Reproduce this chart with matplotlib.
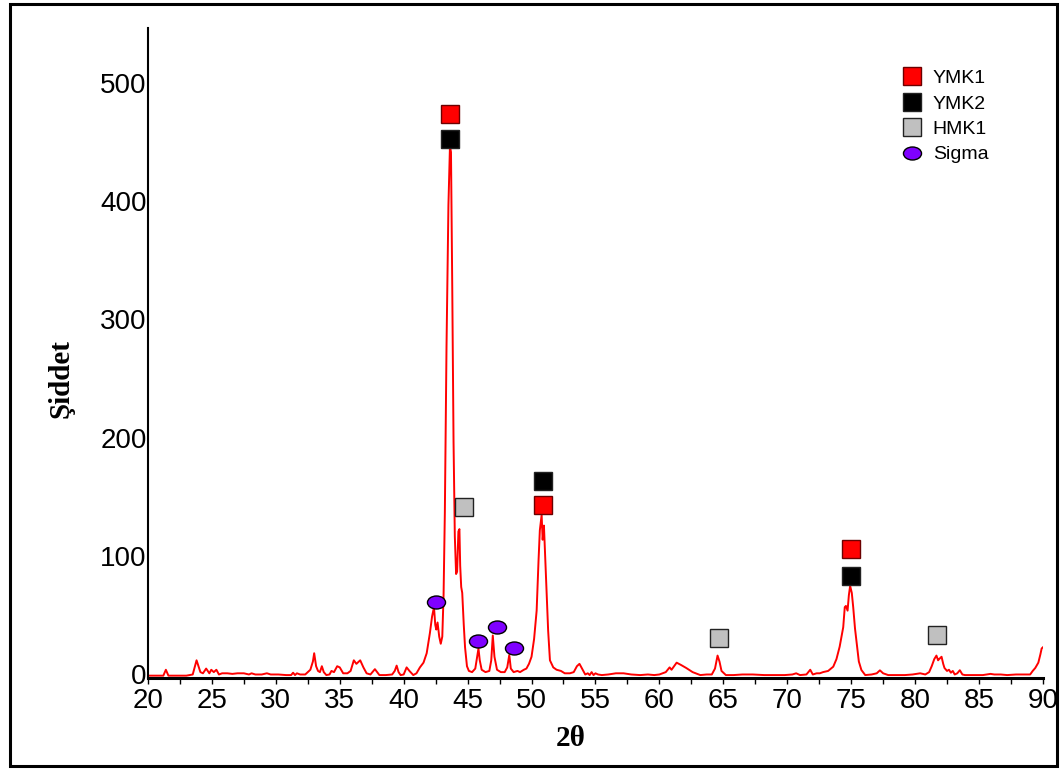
import matplotlib
matplotlib.use("Agg")
import matplotlib.pyplot as plt
import numpy as np
from matplotlib.lines import Line2D
from matplotlib.patches import Rectangle
from matplotlib.path import Path
from matplotlib.transforms import Affine2D, ScaledTranslation

# XRD profile (2theta, intensity)
two_theta = [
    20.0, 20.5, 21.2, 21.4, 21.6, 22.0, 23.0, 23.5, 23.8, 24.1, 24.3, 24.55, 24.8, 24.95,
    25.15, 25.35, 25.55, 25.8, 26.2, 26.6, 27.0, 27.5, 27.9, 28.1, 28.4, 28.9, 29.3, 29.6,
    30.2, 30.8, 31.2, 31.35, 31.5, 31.65, 31.9, 32.3, 32.7, 32.9, 33.0, 33.15, 33.3, 33.45,
    33.6, 33.75, 33.95, 34.2, 34.35, 34.55, 34.8, 35.0, 35.27, 35.6, 35.85, 36.1, 36.3, 36.6,
    36.85, 37.1, 37.4, 37.75, 38.1, 38.6, 39.1, 39.3, 39.45, 39.6, 39.76, 40.0, 40.23, 40.45,
    40.75, 41.0, 41.27, 41.55, 41.8, 42.05, 42.22, 42.37, 42.47, 42.55, 42.65, 42.78, 42.9,
    43.02, 43.12, 43.22, 43.35, 43.5, 43.62, 43.7, 43.8, 43.9, 44.0, 44.1, 44.18, 44.28,
    44.36, 44.42, 44.5, 44.58, 44.7, 44.8, 44.95, 45.1, 45.35, 45.6, 45.75, 45.85, 45.95,
    46.1, 46.4, 46.7, 46.85, 46.97, 47.1, 47.3, 47.6, 47.9, 48.1, 48.26, 48.38, 48.6, 48.9,
    49.1, 49.4, 49.6, 49.8, 50.0, 50.2, 50.4, 50.55, 50.65, 50.79, 50.87, 50.97, 51.08,
    51.18, 51.3, 51.44, 51.7, 51.96, 52.3, 52.6, 53.0, 53.3, 53.55, 53.75, 53.95, 54.2,
    54.4, 54.55, 54.7, 54.85, 55.0, 55.2, 55.5, 56.0, 56.6, 57.2, 57.8, 58.5, 59.1, 59.6,
    60.0, 60.5, 60.8, 60.95, 61.35, 61.7, 62.1, 62.6, 63.2, 63.7, 64.1, 64.35, 64.55, 64.7,
    64.86, 65.05, 65.2, 65.8, 66.5, 67.3, 68.2, 69.0, 69.8, 70.4, 70.7, 71.0, 71.5, 71.8,
    72.0, 72.3, 72.55, 72.8, 73.2, 73.6, 73.85, 74.1, 74.38, 74.5, 74.59, 74.72, 74.82,
    74.92, 75.05, 75.16, 75.3, 75.47, 75.6, 75.8, 76.1, 76.6, 77.0, 77.25, 77.5, 77.9,
    78.5, 79.2, 79.8, 80.4, 80.8, 81.1, 81.3, 81.5, 81.67, 81.8, 81.88, 82.07, 82.2, 82.3,
    82.5, 82.65, 82.8, 82.95, 83.1, 83.3, 83.5, 83.7, 83.9, 84.5, 85.3, 85.9, 86.2, 86.7,
    87.2, 87.9, 88.5, 89.0, 89.2, 89.4, 89.64, 89.8, 89.9, 90.0,
]
intensity = [
    2, 2, 2, 7, 2, 2, 2, 3, 15, 5, 4, 8, 4, 7,
    5, 7, 3, 4, 4, 3.5, 4, 4, 3, 4, 3, 3, 4, 3,
    3, 2.5, 2.5, 4.5, 2.5, 4, 3, 3, 7, 14, 21, 10, 6, 5,
    10, 5, 2.5, 3, 6, 5, 10, 9, 4, 4, 6, 15, 12, 15,
    9, 4, 3, 7.5, 2.5, 2.5, 3, 6, 10.5, 5, 2.5, 3, 9, 6,
    2.5, 4, 9, 13, 21, 38, 52, 60, 45, 41, 47, 35, 29,
    35, 70, 140, 280, 400, 450, 445, 330, 200, 120, 88, 90, 124,
    126, 95, 77, 72, 45, 26, 10, 6, 5, 8, 18, 25, 15,
    7, 5, 6, 15, 36, 18, 7, 5, 5, 9, 19.5, 8, 5, 6,
    5, 7, 8, 12, 18, 33, 57, 100, 125, 138, 117, 129, 100,
    72, 40, 15, 9, 7, 6, 4, 4, 5, 10, 12, 8, 3,
    4, 2.5, 5, 2.5, 4, 3, 2.5, 3, 4, 4, 3, 2.5, 3, 2.5,
    3, 5, 9, 7, 13, 11, 8.5, 5, 2.5, 3, 3, 8, 19, 14,
    6, 4, 2.5, 2.5, 3, 3, 2.5, 2.5, 2.5, 3, 4, 2.5, 3, 7,
    3, 4, 4, 5, 6, 9.6, 16, 26.5, 43, 60, 61, 57, 70,
    78, 72, 60, 42, 26.5, 14, 6.8, 2.5, 3, 4, 6.5, 4, 2.5,
    2.5, 2.5, 3, 4, 3, 5, 10, 16, 19, 15, 16, 18, 12, 8.5,
    6, 7, 4.5, 6, 3, 4, 6.6, 3, 2.5, 2.5, 2.5, 3.5, 3, 3,
    2.5, 3, 3, 3, 6, 8.5, 13, 20, 25, 26,
]

# phase markers
ymk1_x = [43.65, 50.9, 75.0]
ymk1_y = [477, 146, 109]
ymk2_x = [43.65, 50.9, 75.0]
ymk2_y = [456, 167, 86]
hmk1_x = [44.7, 64.7, 81.7]
hmk1_y = [145, 34, 36]
sigma_x = [42.5, 45.8, 47.3, 48.6]
sigma_y = [64, 31, 43, 25]

x_ticks = [20, 25, 30, 35, 40, 45, 50, 55, 60, 65, 70, 75, 80, 85, 90]
y_ticks = [0, 100, 200, 300, 400, 500]

# ellipse marker for sigma
ellipse = Path.unit_circle().transformed(Affine2D().scale(1.0, 0.72))

fig = plt.figure(figsize=(10.6, 7.69), dpi=100)
ax = fig.add_axes([0.1396, 0.1183, 0.8443, 0.8453])

ax.plot(two_theta, intensity, color='red', lw=1.4, zorder=2)

sq = dict(marker='s', markersize=12.8, linestyle='none', markeredgewidth=1.0, zorder=3)
ax.plot(ymk1_x, ymk1_y, markerfacecolor='#ff0000', markeredgecolor='#6b0000', **sq)
ax.plot(ymk2_x, ymk2_y, markerfacecolor='#000000', markeredgecolor='#222222', **sq)
ax.plot(hmk1_x, hmk1_y, markerfacecolor='#c0c0c0', markeredgecolor='#222222', **sq)
ax.plot(sigma_x, sigma_y, marker=ellipse, markersize=13, linestyle='none',
        markerfacecolor='#7f00ff', markeredgecolor='black', markeredgewidth=1.0, zorder=3)

ax.set_xlim(20, 90)
ax.set_ylim(0, 550)
ax.set_xticks(x_ticks)
ax.set_xticks(np.arange(22.5, 90, 5), minor=True)
ax.set_yticks(y_ticks)

for lab in ax.get_xticklabels() + ax.get_yticklabels():
    lab.set_fontfamily('Liberation Sans')
    lab.set_fontsize(20)

ax.tick_params(axis='x', which='both', direction='out', length=4, width=1, pad=3)
ax.tick_params(axis='y', length=0, pad=1)

# nudge y labels up a little, as in the original
shift = ScaledTranslation(0, 4 / 100, fig.dpi_scale_trans)
for lab in ax.get_yticklabels():
    lab.set_transform(lab.get_transform() + shift)

ax.spines['top'].set_visible(False)
ax.spines['right'].set_visible(False)
ax.spines['left'].set_linewidth(1.5)
ax.spines['bottom'].set_linewidth(2.2)

fig.text(0.058, 0.508, 'Şiddet', rotation=90, ha='center', va='center',
         fontfamily='Liberation Serif', fontweight='bold', fontsize=21)
fig.text(0.538, 0.040, '2θ', ha='center', va='center',
         fontfamily='Liberation Serif', fontweight='bold', fontsize=21)

handles = [
    Line2D([], [], marker='s', markersize=13, linestyle='none',
           markerfacecolor='#ff0000', markeredgecolor='#6b0000', label='YMK1'),
    Line2D([], [], marker='s', markersize=13, linestyle='none',
           markerfacecolor='#000000', markeredgecolor='#222222', label='YMK2'),
    Line2D([], [], marker='s', markersize=13, linestyle='none',
           markerfacecolor='#c0c0c0', markeredgecolor='#222222', label='HMK1'),
    Line2D([], [], marker=ellipse, markersize=13, linestyle='none',
           markerfacecolor='#7f00ff', markeredgecolor='black', label='Sigma'),
]
ax.legend(handles=handles, loc='upper left', bbox_to_anchor=(0.8425, 0.936),
          frameon=False, borderaxespad=0, borderpad=0, handlelength=1.0,
          handletextpad=0.58, labelspacing=0.4,
          prop={'family': 'Liberation Sans', 'size': 14})

# outer frame
fig.patches.append(Rectangle((10 / 1060, 3 / 769), 1047 / 1060, 762 / 769,
                             transform=fig.transFigure, fill=False,
                             edgecolor='black', linewidth=2.2))

fig.savefig('out.png', dpi=100)
